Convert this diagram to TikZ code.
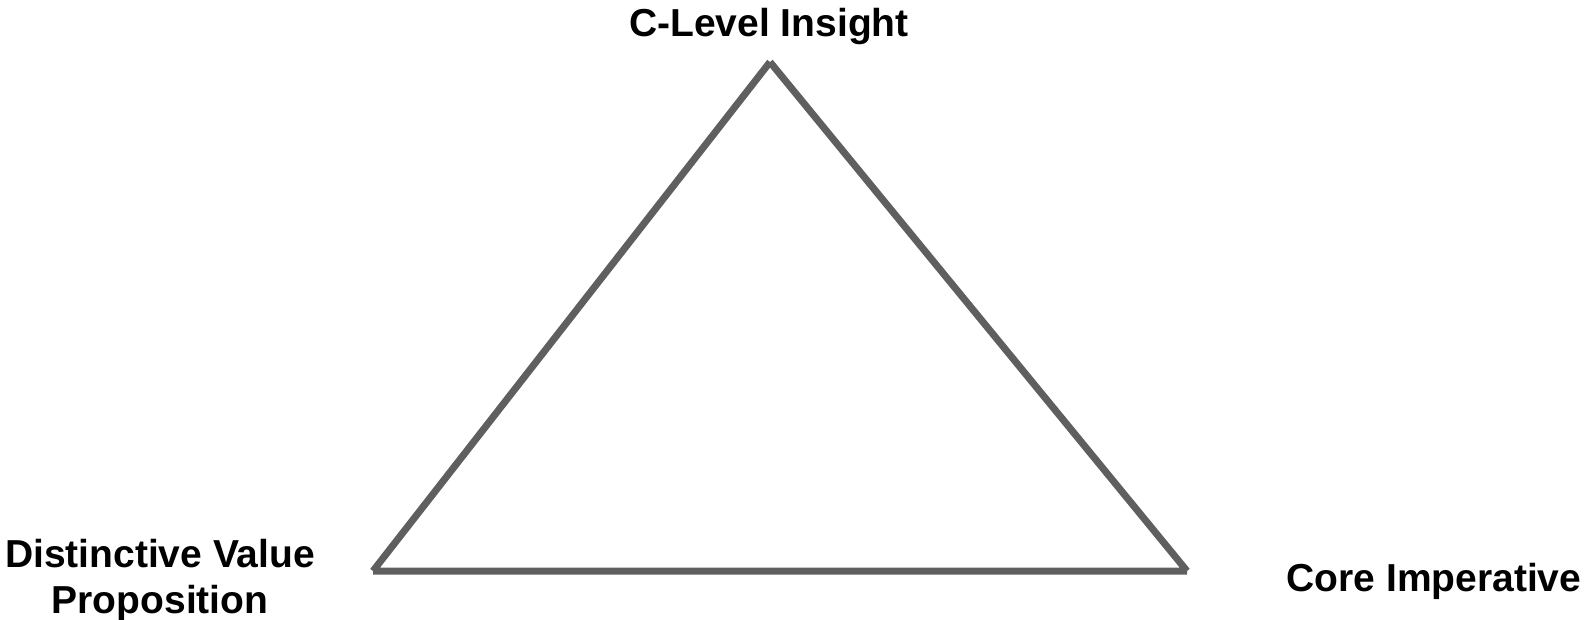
\documentclass[tikz,border=0pt]{standalone}
\usepackage{fontspec}
\setmainfont{Liberation Sans}
\definecolor{edgegray}{HTML}{5F5F5F}
\begin{document}
\begin{tikzpicture}[x=1pt,y=-1pt,
 cornertext/.style={inner sep=0pt,anchor=base,align=center,
   font=\fontsize{39}{46}\selectfont\bfseries},
 side/.style={edgegray,line width=7pt,line cap=butt}]

\useasboundingbox (0,0) rectangle (1585,619);
% Corners of the triangle; each side is its own stroke
\coordinate (Top) at (770,62);
\coordinate (Left) at (373,571);
\coordinate (Right) at (1187,571);
\draw[side] (Top)--(Left) (Left)--(Right) (Right)--(Top);
% Corner texts
\node[cornertext] (insight) at (769,36) {C-Level Insight};
\node[cornertext] (value) at (160,613) {Distinctive Value\\Proposition};
\node[cornertext] (core) at (1434,591) {Core Imperative};
\end{tikzpicture}
\end{document}
